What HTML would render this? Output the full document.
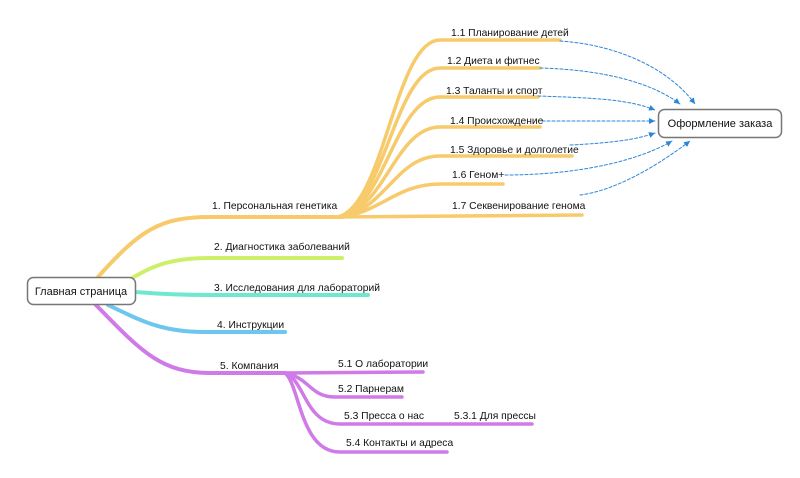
<!DOCTYPE html>
<html><head><meta charset="utf-8"><style>
html,body{margin:0;padding:0;background:#fff;width:800px;height:478px;overflow:hidden}
text{font-family:"Liberation Sans",sans-serif;font-size:10.3px;fill:#111}
</style></head><body>
<svg width="800" height="478" viewBox="0 0 800 478" xmlns="http://www.w3.org/2000/svg">
<defs><marker id="a" markerWidth="8" markerHeight="8" refX="6" refY="3" orient="auto"><path d="M0,0 L6,3 L0,6 z" fill="#2a86d8"/></marker></defs>
<g fill="none" stroke-linecap="round">
<g stroke="#f7ca6b" stroke-width="4">
<path d="M98,277 C140,230 160,217 210,217 L342,217"/>
<path d="M338,217 C385,205 395,40 440,40 L560,40" stroke-width="3.5"/>
<path d="M338,217 C385,207 395,68 440,68 L540,68" stroke-width="3.5"/>
<path d="M338,217 C385,209 395,97 440,97 L538,97" stroke-width="3.5"/>
<path d="M338,217 C385,211 395,127 440,127 L540,127" stroke-width="3.5"/>
<path d="M338,217 C385,212 395,156 440,156 L572,156" stroke-width="3.5"/>
<path d="M338,217 C380,214 395,184 440,184 L503,184" stroke-width="3.5"/>
<path d="M338,217 L582,215" stroke-width="3.5"/>
</g>
<path d="M115,289 C150,265 170,258 210,258 L342,258" stroke="#cdf06a" stroke-width="4"/>
<path d="M135,292 C160,294 180,295 210,295 L368,295" stroke="#6fe8cf" stroke-width="4"/>
<path d="M108,305 C140,320 160,332 205,332 L285,332" stroke="#6cc6ee" stroke-width="4"/>
<g stroke="#d07ae8" stroke-width="4">
<path d="M95,304 C140,350 160,373 210,373 L285,373"/>
<path d="M282,373 L423,372" stroke-width="3.5"/>
<path d="M285,373 C310,378 310,397 335,397 L402,397" stroke-width="3.5"/>
<path d="M285,373 C305,380 305,424 340,424 L532,424" stroke-width="3.5"/>
<path d="M285,373 C300,385 300,452 340,452 L447,452" stroke-width="3.5"/>
</g>
<g stroke="#2a86d8" stroke-width="1" stroke-dasharray="3,2" marker-end="url(#a)">
<path d="M560,41 C620,45 670,70 695,104"/>
<path d="M540,68 C610,70 655,85 680,104"/>
<path d="M538,96 C600,98 630,100 655,110"/>
<path d="M542,121 L655,121"/>
<path d="M570,145 C610,143 635,140 655,133"/>
<path d="M505,175 C580,175 640,160 672,141"/>
<path d="M580,195 C620,190 665,160 690,141"/>
</g>
</g>
<rect x="27.5" y="277.5" width="108" height="27" rx="6" fill="#fff" stroke="#777" stroke-width="1.5"/>
<text x="81" y="295" text-anchor="middle" style="font-size:11px">Главная страница</text>
<rect x="658.5" y="109.5" width="123" height="28" rx="6" fill="#fff" stroke="#777" stroke-width="1.5"/>
<text x="720" y="127" text-anchor="middle" style="font-size:11px">Оформление заказа</text>
<text x="451" y="36">1.1 Планирование детей</text>
<text x="447" y="64">1.2 Диета и фитнес</text>
<text x="446" y="94">1.3 Таланты и спорт</text>
<text x="450" y="124">1.4 Происхождение</text>
<text x="450" y="153">1.5 Здоровье и долголетие</text>
<text x="452" y="178">1.6 Геном+</text>
<text x="452" y="209">1.7 Секвенирование генома</text>
<text x="212" y="209">1. Персональная генетика</text>
<text x="214" y="250">2. Диагностика заболеваний</text>
<text x="214" y="291">3. Исследования для лабораторий</text>
<text x="217" y="328">4. Инструкции</text>
<text x="220" y="369">5. Компания</text>
<text x="338" y="367">5.1 О лаборатории</text>
<text x="338" y="392">5.2 Парнерам</text>
<text x="344" y="419">5.3 Пресса о нас</text>
<text x="454" y="419">5.3.1 Для прессы</text>
<text x="346" y="446">5.4 Контакты и адреса</text>
</svg>
</body></html>
